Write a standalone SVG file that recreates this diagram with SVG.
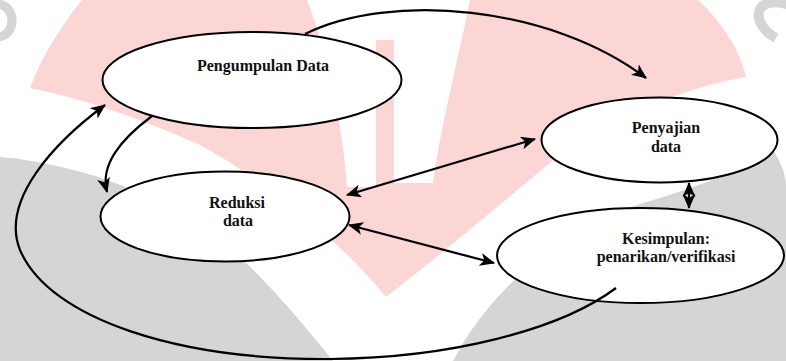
<svg xmlns="http://www.w3.org/2000/svg" width="786" height="361" viewBox="0 0 786 361">
  <style>
    .node ellipse { fill: #ffffff; stroke: #000000; stroke-width: 2; }
    .node text { font-family: "Liberation Serif", "Times New Roman", "DejaVu Serif", serif; font-weight: bold; font-size: 16px; fill: #111111; text-anchor: middle; }
    .edge { fill: none; stroke: #000000; stroke-width: 2.2; }
    .pink { fill: #fcd5d5; }
    .gray { fill: #d5d5d5; }
  </style>
  <defs>
    <marker id="arrow" viewBox="0 0 15 13" refX="14" refY="6.5" markerWidth="15" markerHeight="13" markerUnits="userSpaceOnUse" orient="auto-start-reverse">
      <path d="M0,0 L15,6.5 L0,13 L4,6.5 Z" fill="#000000"/>
    </marker>
  </defs>

  <g id="background">
    <rect x="0" y="0" width="786" height="361" fill="#ffffff"/>
    <path class="pink" d="M82,0 L698,0 C722,22 740,50 746,77 C690,86 600,120 550,163 L433,260 L386,297 C340,240 265,180 200,145 C140,118 80,98 30,88 C42,55 62,25 82,0 Z"/>
    <path fill="#ffffff" d="M307,0 L470,0 C458,60 440,130 433,183 L394,183 L394,40 L376,40 L376,187 L347,187 C343,130 330,60 307,0 Z"/>
    <path class="gray" d="M0,157 C70,163 150,190 205,228 C255,265 300,320 333,361 L0,361 Z"/>
    <path class="gray" d="M453,361 C490,290 560,230 640,204 C700,186 745,170 772,148 C780,160 786,175 786,185 L786,361 Z"/>
    <path d="M-3,4 C16,4 18,36 -3,37" fill="none" stroke="#d5d5d5" stroke-width="9"/>
    <path d="M790,5 C775,0 761,2 759,12 C757,22 765,32 776,38" fill="none" stroke="#d5d5d5" stroke-width="10"/>
  </g>

  <g id="node-pengumpulan" class="node">
    <ellipse cx="252" cy="80" rx="149.5" ry="48"/>
    <text x="263" y="70.5">Pengumpulan Data</text>
  </g>
  <g id="node-penyajian" class="node">
    <ellipse cx="659.5" cy="140" rx="118" ry="42.5"/>
    <text x="666" y="133">Penyajian</text>
    <text x="666" y="152">data</text>
  </g>
  <g id="node-reduksi" class="node">
    <ellipse cx="225" cy="216.5" rx="124.5" ry="45"/>
    <text x="237" y="208">Reduksi</text>
    <text x="238" y="226">data</text>
  </g>
  <g id="node-kesimpulan" class="node">
    <ellipse cx="640.5" cy="255.5" rx="143.5" ry="47.5"/>
    <text x="666" y="243.5">Kesimpulan:</text>
    <text x="666" y="262">penarikan/verifikasi</text>
  </g>

  <g id="connectors">
    <path class="edge" d="M305,34 C390,-8 550,5 646,78" marker-end="url(#arrow)"/>
    <path class="edge" d="M152,116 C120,140 100,165 107,192" marker-end="url(#arrow)"/>
    <path class="edge" d="M347,195 L535,139" marker-start="url(#arrow)" marker-end="url(#arrow)"/>
    <path class="edge" d="M349,225 L494,263" marker-start="url(#arrow)" marker-end="url(#arrow)"/>
    <path class="edge" d="M689,183 L689,208" marker-start="url(#arrow)" marker-end="url(#arrow)"/>
    <path class="edge" d="M616,288 C560,330 450,358 330,359 C180,360 50,320 20,250 C0,200 55,142 105,105" marker-end="url(#arrow)"/>
  </g>
</svg>
